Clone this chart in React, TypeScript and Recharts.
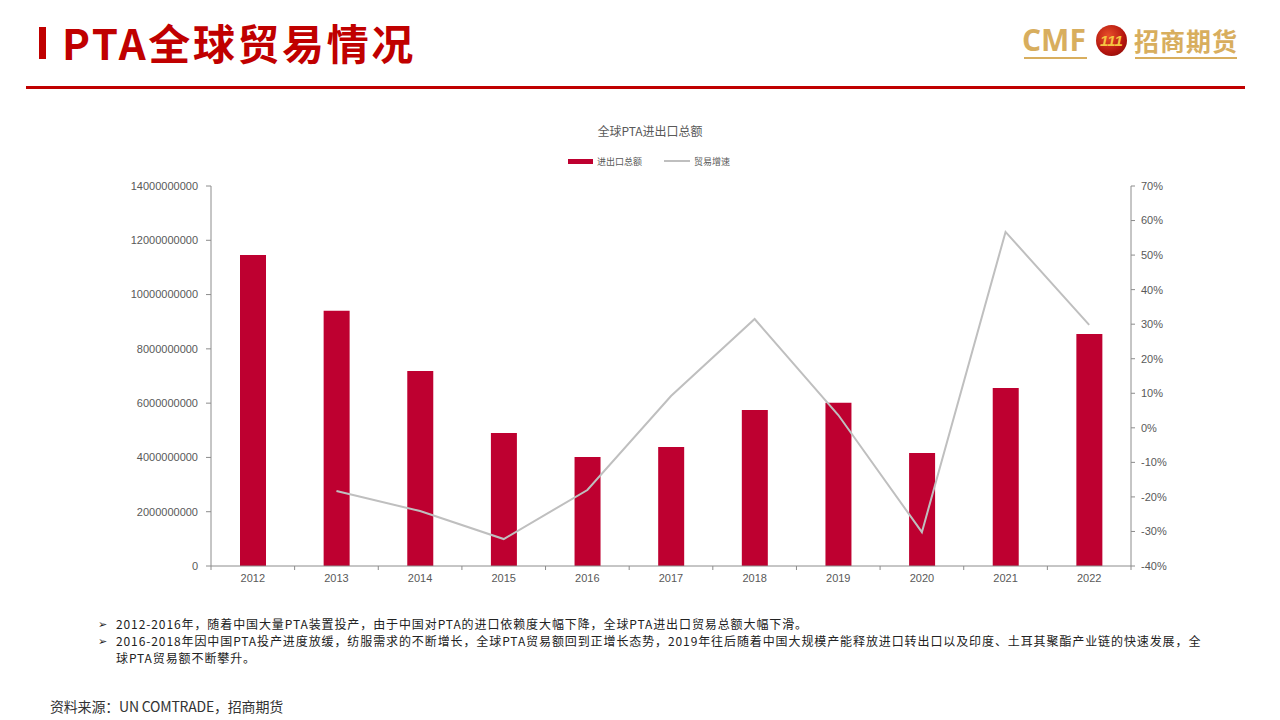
import { Bar, ComposedChart, Line, XAxis, YAxis } from "recharts";

// 全球PTA进出口总额 — 柱：进出口总额（左轴，美元），线：贸易增速（右轴）
const YEARS = ["2012", "2013", "2014", "2015", "2016", "2017", "2018", "2019", "2020", "2021", "2022"];
const TOTAL = [11.46e9, 9.4e9, 7.18e9, 4.9e9, 4.02e9, 4.38e9, 5.75e9, 6.01e9, 4.16e9, 6.56e9, 8.55e9];
const GROWTH = [null, -0.183, -0.241, -0.322, -0.18, 0.092, 0.315, 0.037, -0.302, 0.567, 0.298];
const LEFT_TICKS = [0, 2e9, 4e9, 6e9, 8e9, 10e9, 12e9, 14e9];
const RIGHT_TICKS = [-0.4, -0.3, -0.2, -0.1, 0, 0.1, 0.2, 0.3, 0.4, 0.5, 0.6, 0.7];
const NOTES = [
  "2012-2016年，随着中国大量PTA装置投产，由于中国对PTA的进口依赖度大幅下降，全球PTA进出口贸易总额大幅下滑。",
  "2016-2018年因中国PTA投产进度放缓，纺服需求的不断增长，全球PTA贸易额回到正增长态势，2019年往后随着中国大规模产能释放进口转出口以及印度、土耳其聚酯产业链的快速发展，全球PTA贸易额不断攀升。",
];

const data = YEARS.map((y, i) => ({ y, total: TOTAL[i], growth: GROWTH[i] }));

const RED = "#C00000";
const GOLD = "#D8AE5E";
const BAR = "#BE0030";
const AXIS = "#8C8C8C";
const TXT = "#595959";
const CJK = '"Noto Sans CJK SC", "Noto Sans", sans-serif';
const LAT = '"Liberation Sans", Arial, sans-serif';

const CW = 1100, CH = 430;
const M = { top: 16, right: 0, left: 0, bottom: 4 };
const WL = 111, WR = 69;
const BAND = (CW - WL - WR) / YEARS.length;

const XTick = (p: any) => {
  const { x, y, payload, index } = p;
  return (
    <g>
      <line x1={x - BAND / 2} x2={x - BAND / 2} y1={y - 8} y2={y - 4} stroke={AXIS} />
      {index === YEARS.length - 1 && <line x1={x + BAND / 2} x2={x + BAND / 2} y1={y - 8} y2={y - 4} stroke={AXIS} />}
      <text x={x} y={y + 8} textAnchor="middle" fill={TXT} fontSize={11} fontFamily={LAT}>{payload.value}</text>
    </g>
  );
};

export default function App() {
  return (
    <div style={{ position: "absolute", left: 0, top: 0, width: 1280, height: 720, background: "#fff", overflow: "hidden", fontFamily: CJK }}>
      {/* en-tête */}
      <div style={{ position: "absolute", left: 39, top: 27, width: 7, height: 32, background: RED }} />
      <div style={{ position: "absolute", left: 62, top: 14, fontSize: 42, fontWeight: 700, color: RED, lineHeight: "56px", letterSpacing: 2.6 }}>PTA全球贸易情况</div>
      <div style={{ position: "absolute", left: 26, top: 86, width: 1219, height: 3, background: RED }} />

      {/* logo */}
      <div style={{ position: "absolute", left: 1022, top: 22, fontSize: 30, fontWeight: 700, color: GOLD, fontFamily: '"Open Sans", sans-serif', lineHeight: "36px" }}>CMF</div>
      <div style={{ position: "absolute", left: 1024, top: 57, width: 63, height: 2, background: GOLD }} />
      <div style={{ position: "absolute", left: 1096, top: 25, width: 31, height: 31, borderRadius: "50%",
        background: "radial-gradient(circle at 40% 35%, #E8502A 0%, #B3140E 60%, #7A0A06 100%)",
        color: "#F5C542", fontSize: 15, fontWeight: 700, fontStyle: "italic", textAlign: "center", lineHeight: "31px", fontFamily: LAT }}>111</div>
      <div style={{ position: "absolute", left: 1134, top: 22, fontSize: 25, fontWeight: 700, color: GOLD, lineHeight: "36px", letterSpacing: 1 }}>招商期货</div>
      <div style={{ position: "absolute", left: 1135, top: 57, width: 102, height: 2, background: GOLD }} />

      {/* titre + légende */}
      <div style={{ position: "absolute", left: 0, width: 1300, top: 122, textAlign: "center", fontSize: 12, color: TXT, lineHeight: "18px" }}>全球PTA进出口总额</div>
      <div style={{ position: "absolute", left: 568, top: 159, width: 25, height: 5, background: BAR }} />
      <div style={{ position: "absolute", left: 597, top: 155, fontSize: 9, color: TXT, lineHeight: "13px" }}>进出口总额</div>
      <div style={{ position: "absolute", left: 664, top: 160, width: 26, height: 2, background: "#BFBFBF" }} />
      <div style={{ position: "absolute", left: 694, top: 155, fontSize: 9, color: TXT, lineHeight: "13px" }}>贸易增速</div>

      <div style={{ position: "absolute", left: 100, top: 170 }}>
        <ComposedChart width={CW} height={CH} data={data} margin={M}>
          <XAxis dataKey="y" tick={XTick} tickLine={false} axisLine={{ stroke: AXIS }} interval={0} height={30} />
          <YAxis yAxisId="l" orientation="left" width={WL} domain={[0, 14e9]} ticks={LEFT_TICKS} interval={0}
                 tick={{ fill: TXT, fontSize: 11, fontFamily: LAT }} tickSize={5} tickMargin={8}
                 tickLine={{ stroke: AXIS }} axisLine={{ stroke: AXIS }} tickFormatter={(v: number) => String(v)} />
          <YAxis yAxisId="r" orientation="right" width={WR} domain={[-0.4, 0.7]} ticks={RIGHT_TICKS} interval={0}
                 tick={{ fill: TXT, fontSize: 11, fontFamily: LAT }} tickSize={4} tickMargin={6}
                 tickLine={{ stroke: AXIS }} axisLine={{ stroke: AXIS }} tickFormatter={(v: number) => `${Math.round(v * 100)}%`} />
          <Bar yAxisId="l" dataKey="total" fill={BAR} barSize={26} isAnimationActive={false} />
          <Line yAxisId="r" dataKey="growth" stroke="#BFBFBF" strokeWidth={2} dot={false} type="linear" isAnimationActive={false} />
        </ComposedChart>
      </div>

      {/* notes */}
      <div style={{ position: "absolute", left: 98, top: 615, width: 1110, fontSize: 12, color: "#222", lineHeight: "17px", letterSpacing: 0.9 }}>
        {NOTES.map((n, i) => (
          <div key={i} style={{ display: "flex" }}>
            <span style={{ width: 18, flex: "none", fontSize: 11, letterSpacing: 0 }}>➢</span>
            <span>{n}</span>
          </div>
        ))}
      </div>
      <div style={{ position: "absolute", left: 50, top: 697, fontSize: 14, color: "#333", lineHeight: "18px", letterSpacing: -0.2 }}>资料来源：UN COMTRADE，招商期货</div>
    </div>
  );
}
